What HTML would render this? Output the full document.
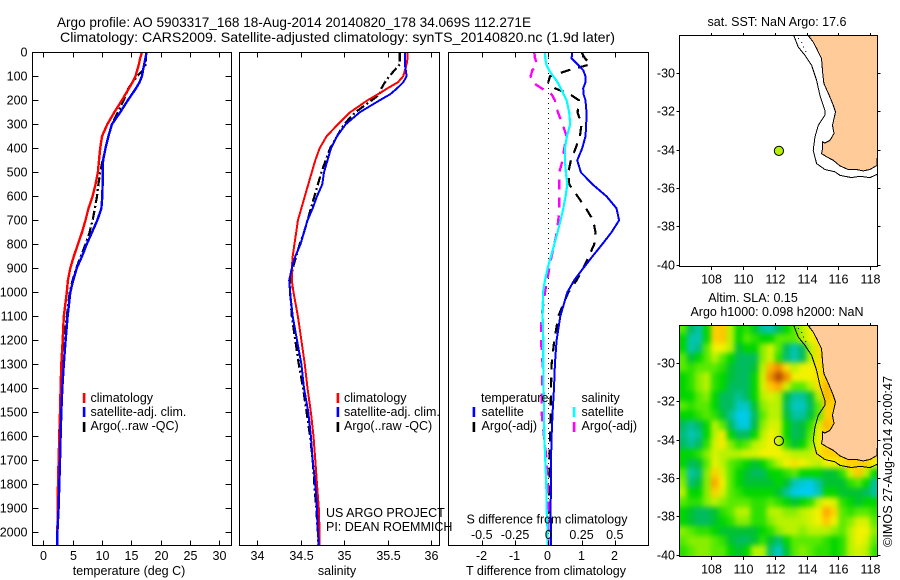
<!DOCTYPE html>
<html lang="en">
<head>
<meta charset="utf-8">
<title>Argo profile 5903317_168</title>
<style>
html,body{margin:0;padding:0;background:#fff;}
svg{display:block;}
text{font-family:"Liberation Sans",sans-serif;font-size:12px;fill:#000;}
.title{font-size:14px;}
.lbl{font-size:12.5px;}
</style>
</head>
<body>
<svg id="fig" xmlns="http://www.w3.org/2000/svg" width="900" height="580" viewBox="0 0 900 580">
<defs>
<clipPath id="clip-temp"><rect x="32.5" y="52.5" width="199" height="493"/></clipPath>
<clipPath id="clip-sal"><rect x="240" y="52.5" width="199.5" height="493"/></clipPath>
<clipPath id="clip-diff"><rect x="448.5" y="52.5" width="200" height="493"/></clipPath>
<clipPath id="clip-map1"><rect x="679.5" y="36" width="198" height="231"/></clipPath>
<clipPath id="clip-map2"><rect x="679.5" y="326" width="198" height="231"/></clipPath>
<filter id="heat-blur" filterUnits="userSpaceOnUse" x="640" y="290" width="280" height="300" color-interpolation-filters="sRGB"><feGaussianBlur stdDeviation="2.6"/></filter>
</defs>
<rect x="0" y="0" width="900" height="580" fill="#fff"/>

<text class="title" x="57" y="27" textLength="474" lengthAdjust="spacingAndGlyphs">Argo profile: AO 5903317_168 18-Aug-2014 20140820_178 34.069S 112.271E</text>
<text class="title" x="60" y="42" textLength="555" lengthAdjust="spacingAndGlyphs">Climatology: CARS2009. Satellite-adjusted climatology: synTS_20140820.nc (1.9d later)</text>

<g id="temp-panel"></g>
<g id="sal-panel"></g>
<g id="diff-panel"></g>
<g id="map1"></g>
<g id="map2"></g>

<text class="lbl" x="129" y="575" text-anchor="middle">temperature (deg C)</text>
<text class="lbl" x="337" y="575" text-anchor="middle">salinity</text>
<text class="lbl" x="546" y="575" text-anchor="middle">T difference from climatology</text>
<text class="lbl" x="547" y="523.5" text-anchor="middle">S difference from climatology</text>

<g>
<rect x="82.8" y="393" width="2.6" height="10" fill="#f00"/>
<rect x="82.8" y="407" width="2.6" height="10" fill="#00f"/>
<rect x="82.8" y="422" width="2.6" height="10" fill="#000"/>
<text class="lbl" x="90.5" y="402">climatology</text>
<text class="lbl" x="90.5" y="416">satellite-adj. clim.</text>
<text class="lbl" x="90.5" y="430">Argo(..raw -QC)</text>
</g>
<g>
<rect x="336.6" y="393" width="2.6" height="10" fill="#f00"/>
<rect x="336.6" y="407" width="2.6" height="10" fill="#00f"/>
<rect x="336.6" y="422" width="2.6" height="10" fill="#000"/>
<text class="lbl" x="344" y="402">climatology</text>
<text class="lbl" x="344" y="416">satellite-adj. clim.</text>
<text class="lbl" x="344" y="430">Argo(..raw -QC)</text>
</g>
<g>
<text class="lbl" x="481" y="402">temperature</text>
<rect x="472.6" y="407" width="2.6" height="10" fill="#00f"/>
<rect x="472.6" y="422" width="2.6" height="10" fill="#000"/>
<text class="lbl" x="481.5" y="416">satellite</text>
<text class="lbl" x="481.5" y="430">Argo(-adj)</text>
<text class="lbl" x="581.5" y="402">salinity</text>
<rect x="572.8" y="407" width="2.6" height="10" fill="#0ff"/>
<rect x="572.8" y="422" width="2.6" height="10" fill="#f0f"/>
<text class="lbl" x="581.5" y="416">satellite</text>
<text class="lbl" x="581.5" y="430">Argo(-adj)</text>
</g>

<text class="lbl" x="326" y="517">US ARGO PROJECT</text>
<text class="lbl" x="326" y="531">PI: DEAN ROEMMICH</text>

<text class="lbl" x="777" y="26" text-anchor="middle">sat. SST: NaN Argo: 17.6</text>
<text class="lbl" x="753" y="302" text-anchor="middle">Altim. SLA: 0.15</text>
<text class="lbl" x="777" y="316" text-anchor="middle">Argo h1000: 0.098 h2000: NaN</text>
<text class="lbl" transform="translate(892,547) rotate(-90)" textLength="171" lengthAdjust="spacingAndGlyphs">©IMOS 27-Aug-2014 20:00:47</text>
</svg>

<script>
// ---------- profile data ----------
const depths = [0,25,50,75,100,125,150,175,200,250,300,350,400,450,500,550,600,650,700,750,800,850,900,950,1000,1100,1200,1300,1400,1500,1600,1700,1800,1900,2000,2055];
const tempClim = [16.8,16.5,16.3,16,15.7,15.2,14.6,14,13.4,12.1,10.9,10,9.7,9.5,9.3,8.9,8.4,7.7,7.2,6.6,5.9,5.2,4.6,4.2,4,3.5,3.3,3.07,2.95,2.84,2.73,2.6,2.5,2.44,2.4,2.4];
const tempSat = [17.6,17.4,17.2,17,16.8,16.4,15.8,15.1,14.4,13.1,11.7,11.1,10.6,10.2,10.1,10.1,10.05,9.9,9.2,8.3,7.4,6.6,5.7,5.1,4.6,4.15,3.8,3.5,3.24,3.07,2.95,2.84,2.73,2.6,2.4,2.4];
const tempArgo = [17.5,17.5,17.5,17,16,15.2,14.5,14.1,13.7,12.7,11.7,11.1,10.6,10.1,9.7,9.4,9.15,8.8,8.4,7.9,7.2,6.4,5.6,5,4.5,4,3.45,3.2,3,2.85,2.7,2.6,2.55,2.5,2.4,2.4];
const salClim = [35.73,35.73,35.72,35.7,35.68,35.62,35.5,35.39,35.27,35.07,34.93,34.8,34.72,34.67,34.63,34.59,34.55,34.51,34.47,34.45,34.43,34.41,34.4,34.4,34.42,34.47,34.51,34.55,34.58,34.62,34.65,34.67,34.69,34.71,34.72,34.72];
const salSat = [35.7,35.7,35.7,35.71,35.72,35.68,35.61,35.53,35.41,35.18,35.02,34.92,34.85,34.81,34.77,34.75,34.69,34.64,34.58,34.54,34.5,34.44,34.4,34.37,34.38,34.41,34.46,34.51,34.54,34.59,34.62,34.64,34.67,34.69,34.7,34.71];
const salArgo = [35.64,35.64,35.64,35.58,35.52,35.47,35.43,35.41,35.32,35.13,35,34.92,34.84,34.79,34.74,34.7,34.66,34.62,34.58,34.54,34.49,34.45,34.41,34.39,34.38,34.4,34.44,34.48,34.53,34.57,34.61,34.64,34.66,34.68,34.7,34.7];
const diffTSat = [0.72,0.7,0.88,1.05,1.12,1.12,1.05,1.06,1.12,1.15,1.14,1.12,1.02,0.87,0.98,1.33,1.75,2.05,2.13,1.9,1.62,1.33,1.05,0.78,0.57,0.36,0.25,0.2,0.17,0.13,0.1,0.08,0.08,0.07,0.08,0.08];
const diffTArgo = [1,1.1,1.27,0.6,0.05,0,0.2,0.65,0.92,0.88,1,0.95,0.82,0.68,0.6,0.63,0.88,1.13,1.35,1.42,1.38,1.22,1.05,0.85,0.6,0.3,0.18,0.1,0.08,0.07,0.05,0.04,0.03,0.02,0,0];
const diffSSat = [-0.025,-0.0225,-0.015,0.005,0.0375,0.07,0.0925,0.115,0.1375,0.1575,0.165,0.14,0.125,0.125,0.1325,0.1425,0.13,0.1125,0.0925,0.07,0.045,0.02,-0.005,-0.025,-0.04,-0.0425,-0.0375,-0.0375,-0.035,-0.0325,-0.03,-0.0225,-0.015,-0.0125,-0.005,-0.005];
const diffSArgo = [-0.105,-0.1,-0.0825,-0.12,-0.1325,-0.12,-0.05,0.025,0.05,0.0725,0.1075,0.1375,0.12,0.1075,0.0825,0.0825,0.0825,0.0825,0.075,0.065,0.045,0.025,0.0075,-0.01,-0.025,-0.05,-0.055,-0.0425,-0.0475,-0.05,-0.0325,-0.0125,-0.005,0,0,0];

// ---------- tick labels ----------
const depthTicks = [0,100,200,300,400,500,600,700,800,900,1000,1100,1200,1300,1400,1500,1600,1700,1800,1900,2000];
const tempTicks = [0,5,10,15,20,25,30];
const salTicks = [34,34.5,35,35.5,36];
const diffTTicks = [-2,-1,0,1,2];
const diffSTicks = [-0.5,-0.25,0,0.25,0.5];
const lonTicks = [108,110,112,114,116,118];
const latTicks = [-30,-32,-34,-36,-38,-40];

// ---------- map data ----------
const argoLon = 112.271;
const argoLat = -34.069;
const coastLon = [114.11,114.42,114.63,114.94,115.01,115.09,115.42,115.68,115.82,115.72,115.63,115.72,115.47,115.15,114.99,115.01,114.94,115.26,115.68,116.09,116.61,117.14,117.55,117.97,118.43];
const coastLat = [-28.09,-28.41,-28.75,-29.27,-29.97,-30.57,-31.18,-31.7,-32.05,-32.39,-32.74,-33.17,-33.52,-33.66,-33.6,-33.95,-34.21,-34.38,-34.56,-34.85,-35.04,-35.04,-35.11,-35.04,-34.82];
const isoLon = [113.21,113.48,113.9,114.32,114.63,114.84,115.15,115.15,114.74,114.53,114.42,114.63,115.15,115.78,116.09,116.82,117.34,117.97,118.43];
const isoLat = [-28.09,-28.67,-29.1,-29.62,-30.4,-31.18,-31.96,-32.22,-32.74,-33.34,-34.04,-34.73,-35.04,-35.16,-35.34,-35.46,-35.39,-35.46,-35.29];
const inshoreLon = [113.48,113.69,113.9,114.11];
const inshoreLat = [-28.22,-28.4,-28.85,-29.1];

// sea level anomaly, colour-scale units, 0.5 degree cells, north to south, west to east
const slaRows = [
[4,1.8,1.1,3,7,7.2,5,3,3.5,2.5,1.2,1,1.8,3,4,5,6,6.5,7,7,7,7,7,7,7],
[3,1.1,1,3,7,7.2,5,3,4,3.5,3,3,4,4,4,5,6,6.5,7,7,7,7,7,7,7],
[3,1,1.5,4,6,6,5,2.2,3,3,4.5,5.5,4,1.8,1,1.8,5,6.5,7,7,7,7,7,7,7],
[4,2.2,3,4,5,4,3,1.8,1.8,1.8,4.5,5.5,3.5,1.6,1,1.8,5,6.5,7,7,7,7,7,7,7],
[4,3.5,4,4,4,3.5,2.3,1.8,1.8,2.3,5,7.5,8.2,6.5,5,6,6,6.5,7,7,7,7,7,7,7],
[3,3.5,4.5,5,3.5,3,2.2,1.8,1.8,3,5.5,8.2,9.6,8.2,6,6,6,6.5,7,7,7,7,7,7,7],
[3,3.5,4.5,5,3.5,3,1.8,1.8,1.8,3,5.5,7.2,7.8,5.5,4,4,5,6.5,7.5,7,7,7,7,7,7],
[3,3,4,4.5,3,1.8,1.8,1.3,1.8,3,5,5.5,5,2.2,1.2,1.2,2.2,5,7.5,7,7,7,7,7,7],
[4,3.5,4,4,3,1.8,1.8,0.8,0.7,2.3,4.5,5,5,1.8,0.8,0.8,1.8,4,7,7,7,7,7,7,7],
[3,3,3.5,4,3.5,2.3,1.3,0.2,0.1,1.8,4,5,5,2.2,1.2,1.2,2.2,4,7,7,7,7,7,7,7],
[1.8,1.3,1.8,3,5,4,1.8,0.5,0.2,2,4.5,5.5,5.5,3,1.8,2.2,3.5,5.5,7.5,7,7,7,7,7,7],
[1.6,1,1.3,3,5,6.2,3,1.8,1.8,3,5,6,5.5,3,1.8,2.2,4,6,7,7,7,7,7,7,7],
[1.8,1.3,1.8,3.5,5.5,6.2,4.5,3.5,4,5,5.5,6,5.5,3.5,2.3,3,4.5,6,7,7,7,7,7,7,7],
[3,3,3.5,4.5,5.5,5,5,5,5.5,5.5,6,6,6,5.5,5,5,5,6.5,7,7,7,7,7,7,7],
[3,1.8,2.2,4,5.8,5,4,3.5,3,2.3,3,4,5,6,6.5,6,5.5,5,6,6,6.5,7,7,7,6],
[4,1.1,1.6,4.5,7,5.5,4,3,2.3,1.8,1.8,3,3,3.5,4,3,3,3,2.3,2.3,3.5,5.5,7.2,5,3],
[4.5,1.6,2.2,4.5,7.8,6,4,3,2.3,2.3,2.3,2.3,3,2.3,1,0.5,0.2,1.2,2.3,2.3,2.3,3.5,4,3,1.2],
[5,3,3,4.5,7,5.5,4,3.5,3,3,3,3,2.3,1.2,0.2,0,0,0.8,3,3,2.3,2.3,2.3,1.8,1.2],
[4,3.5,3.5,4.5,5,4.5,4,4,4,3.5,3.5,4,3.5,3,2.3,3,3.5,5,6,5.5,3.5,3,2.3,3,3],
[3,2.3,1.8,1.8,2.3,3.5,4,5,5,3.5,3.5,5,5,4.5,4.5,5,5.5,6,7.8,6.8,4,3.5,4,4,3.5],
[3,2.3,1.8,1.8,2.3,3,3.5,4.5,4.5,3.5,3.5,4.5,5,5,5,5,5.5,6,7.2,6,4,4.5,5.5,5.5,4],
[4.5,4,3.5,3.5,3,2.3,2.3,2.3,2.3,2.3,3,3.5,4.5,5,5,4.5,5,5,5,4.5,4,5,6,6,4.5],
[4,4.5,4.5,4.5,4,3.5,2.3,1.8,1.8,2.3,3.5,2.3,1.6,3,4,4,4,4,3.5,3,3.5,5,6,5.5,4],
[3.5,4,4.5,4.5,4,4,3,2.3,3,5,5,1.6,0.6,2.3,4,4.5,4,3.5,3.5,3,3.5,5,5.5,5,3.5]
];
const heatStops = ['#00ccf4','#04c4b4','#00ba48','#00d600','#58ea00','#b8f200','#f2f200','#ffd000','#ff9c00','#c05800','#a84400'];

// ---------- axis functions ----------
function yDepth(d){ return 52.3 + d * 0.24; }
function xTemp(t){ return 43.3 + t * 5.867; }
function xSal(s){ return 257 + (s - 34) * 87; }
function xDiffT(t){ return 548.3 + t * 33.25; }
function xDiffS(s){ return 548.3 + s * 133; }
function xLon(lon){ return 679.3 + (lon - 106.03) * 15.96; }
function yLat(lat, top){ return top + (-28.1 - lat) * 19.24; }

const NS = 'http://www.w3.org/2000/svg';
function make(parent, tag, name, props){
  const el = document.createElementNS(NS, tag);
  
  
  for (const k in props) el.setAttribute(k, props[k]);
  parent.appendChild(el);
  return el;
}
function label(parent, name, str, x, y, anchor){
  const el = make(parent, 'text', name, {x: x, y: y, 'text-anchor': anchor, 'class': 'lbl'});
  el.textContent = str;
  return el;
}
function seg(parent, name, x1, y1, x2, y2){
  return make(parent, 'line', name, {x1: x1, y1: y1, x2: x2, y2: y2, stroke: '#000', 'stroke-width': 1, 'shape-rendering': 'crispEdges'});
}
function box(parent, name, x, y, w, h){
  return make(parent, 'rect', name, {x: x, y: y, width: w, height: h, fill: 'none', stroke: '#000', 'stroke-width': 1, 'shape-rendering': 'crispEdges'});
}
function profile(parent, name, xs, xf, color, width, dash, clip){
  const pts = xs.map(function(v, i){ return xf(v).toFixed(1) + ',' + yDepth(depths[i]).toFixed(1); }).join(' ');
  const props = {points: pts, fill: 'none', stroke: color, 'stroke-width': width, 'clip-path': 'url(#' + clip + ')', 'shape-rendering': 'crispEdges', 'stroke-linejoin': 'round'};
  if (dash) props['stroke-dasharray'] = dash;
  return make(parent, 'polyline', name, props);
}

// ---------- temperature panel ----------
const tp = document.getElementById('temp-panel');
profile(tp, 'temperature-argo-line', tempArgo, xTemp, '#000', 2.2, '9 3 2 3', 'clip-temp');
profile(tp, 'temperature-climatology-line', tempClim, xTemp, '#f00', 2.4, '', 'clip-temp');
profile(tp, 'temperature-satellite-line', tempSat, xTemp, '#00f', 2.4, '', 'clip-temp');
box(tp, 'temperature-plot-frame', 32.5, 52.5, 199, 493);
depthTicks.forEach(function(d){
  const y = Math.round(yDepth(d)) + 0.5;
  seg(tp, 'depth-tick-left', 32.5, y, 38.5, y);
  seg(tp, 'depth-tick-right', 231.5, y, 225.5, y);
  label(tp, 'depth-tick-label', String(d), 27.5, y + 4, 'end');
});
tempTicks.forEach(function(t){
  const x = Math.round(xTemp(t)) + 0.5;
  seg(tp, 'temperature-tick-top', x, 52.5, x, 57.5);
  seg(tp, 'temperature-tick-bottom', x, 545.5, x, 540.5);
  label(tp, 'temperature-tick-label', String(t), x, 560, 'middle');
});

// ---------- salinity panel ----------
const sp = document.getElementById('sal-panel');
profile(sp, 'salinity-argo-line', salArgo, xSal, '#000', 2.2, '9 3 2 3', 'clip-sal');
profile(sp, 'salinity-climatology-line', salClim, xSal, '#f00', 2, '', 'clip-sal');
profile(sp, 'salinity-satellite-line', salSat, xSal, '#00f', 2, '', 'clip-sal');
box(sp, 'salinity-plot-frame', 239.5, 52.5, 200, 493);
salTicks.forEach(function(s){
  const x = Math.round(xSal(s)) + 0.5;
  seg(sp, 'salinity-tick-top', x, 52.5, x, 57.5);
  seg(sp, 'salinity-tick-bottom', x, 545.5, x, 540.5);
  label(sp, 'salinity-tick-label', String(s), x, 560, 'middle');
});

// ---------- difference panel ----------
const dp = document.getElementById('diff-panel');
make(dp, 'line', 'zero-reference-line', {x1: 548.5, y1: 53, x2: 548.5, y2: 545, stroke: '#000', 'stroke-width': 1, 'stroke-dasharray': '1 4', 'shape-rendering': 'crispEdges'});
profile(dp, 't-difference-argo-line', diffTArgo, xDiffT, '#000', 2.2, '10 8', 'clip-diff');
profile(dp, 't-difference-satellite-line', diffTSat, xDiffT, '#00f', 2, '', 'clip-diff');
profile(dp, 's-difference-argo-line', diffSArgo, xDiffS, '#f0f', 2.4, '10 8', 'clip-diff');
profile(dp, 's-difference-satellite-line', diffSSat, xDiffS, '#0ff', 2.2, '', 'clip-diff');
box(dp, 'difference-plot-frame', 448.5, 52.5, 200, 493);
diffTTicks.forEach(function(t){
  const x = Math.round(xDiffT(t)) + 0.5;
  seg(dp, 't-difference-tick-top', x, 52.5, x, 57.5);
  seg(dp, 't-difference-tick-bottom', x, 545.5, x, 540.5);
  label(dp, 't-difference-tick-label', String(t), x - 1, 560, 'middle');
});
diffSTicks.forEach(function(s){
  label(dp, 's-difference-tick-label', String(s), xDiffS(s), 539, 'middle');
});

// ---------- maps ----------
function heatColor(v){
  const c = Math.max(0, Math.min(heatStops.length - 1.001, v));
  const i = Math.floor(c), f = c - i;
  const a = heatStops[i], b = heatStops[i + 1];
  const ch = function(p){
    const x = parseInt(a.substr(p, 2), 16), y = parseInt(b.substr(p, 2), 16);
    return Math.round(x + (y - x) * f);
  };
  return 'rgb(' + ch(1) + ',' + ch(3) + ',' + ch(5) + ')';
}
function drawMap(g, top, clip, dotFill){
  const land = coastLon.map(function(lon, i){ return xLon(lon).toFixed(1) + ',' + yLat(coastLat[i], top).toFixed(1); });
  land.push(xLon(118.5).toFixed(1) + ',' + yLat(-28, top).toFixed(1));
  make(g, 'polygon', 'land-mass', {points: land.join(' '), fill: '#ffcc99', stroke: '#000', 'stroke-width': 1, 'clip-path': 'url(#' + clip + ')', 'shape-rendering': 'crispEdges'});
  make(g, 'polyline', 'shelf-isobath', {
    points: isoLon.map(function(lon, i){ return xLon(lon).toFixed(1) + ',' + yLat(isoLat[i], top).toFixed(1); }).join(' '),
    fill: 'none', stroke: '#000', 'stroke-width': 1, 'clip-path': 'url(#' + clip + ')', 'shape-rendering': 'crispEdges'});
  make(g, 'polyline', 'inshore-isobath', {
    points: inshoreLon.map(function(lon, i){ return xLon(lon).toFixed(1) + ',' + yLat(inshoreLat[i], top).toFixed(1); }).join(' '),
    fill: 'none', stroke: '#000', 'stroke-width': 1, 'stroke-dasharray': '1 4', 'clip-path': 'url(#' + clip + ')', 'shape-rendering': 'crispEdges'});
  make(g, 'circle', 'argo-float-position', {cx: xLon(argoLon), cy: yLat(argoLat, top), r: 4.6, fill: dotFill, stroke: '#000', 'stroke-width': 1});
  box(g, 'map-frame', 679.5, top - 0.5 + 0.2, 198, 231);
  lonTicks.forEach(function(lon){
    const x = Math.round(xLon(lon)) + 0.5;
    seg(g, 'longitude-tick-top', x, top - 3, x, top);
    seg(g, 'longitude-tick-bottom', x, top + 231, x, top + 234);
    label(g, 'longitude-tick-label', String(lon), x, top + 247.5, 'middle');
  });
  latTicks.forEach(function(lat){
    const y = Math.round(yLat(lat, top)) + 0.5;
    seg(g, 'latitude-tick-left', 676.5, y, 679.5, y);
    seg(g, 'latitude-tick-right', 877.5, y, 880.5, y);
    label(g, 'latitude-tick-label', String(lat), 675, y + 4, 'end');
  });
}

const m1 = document.getElementById('map1');
drawMap(m1, 36, 'clip-map1', '#b4f000');

const m2 = document.getElementById('map2');
const heatClip = make(m2, 'g', 'sla-heatmap', {'clip-path': 'url(#clip-map2)'});
const heatCells = make(heatClip, 'g', 'sla-heatmap-cells', {filter: 'url(#heat-blur)'});
slaRows.forEach(function(row, r){
  row.forEach(function(v, c){
    const x0 = xLon(106 + c * 0.5), x1 = xLon(106 + (c + 1) * 0.5);
    const y0 = yLat(-28 - r * 0.5, 326), y1 = yLat(-28 - (r + 1) * 0.5, 326);
    const pad = 14;
    const left = c === 0 ? x0 - pad : x0;
    const right = c === row.length - 1 ? x1 + pad : x1;
    const upper = r === 0 ? y0 - pad : y0;
    const lower = r === slaRows.length - 1 ? y1 + pad : y1;
    const cell = document.createElementNS(NS, 'rect');
    
    
    cell.setAttribute('x', left.toFixed(2));
    cell.setAttribute('y', upper.toFixed(2));
    cell.setAttribute('width', (right - left + 0.6).toFixed(2));
    cell.setAttribute('height', (lower - upper + 0.6).toFixed(2));
    cell.setAttribute('fill', heatColor(v));
    heatCells.appendChild(cell);
  });
});
drawMap(m2, 326, 'clip-map2', 'none');
</script>
</body>
</html>
